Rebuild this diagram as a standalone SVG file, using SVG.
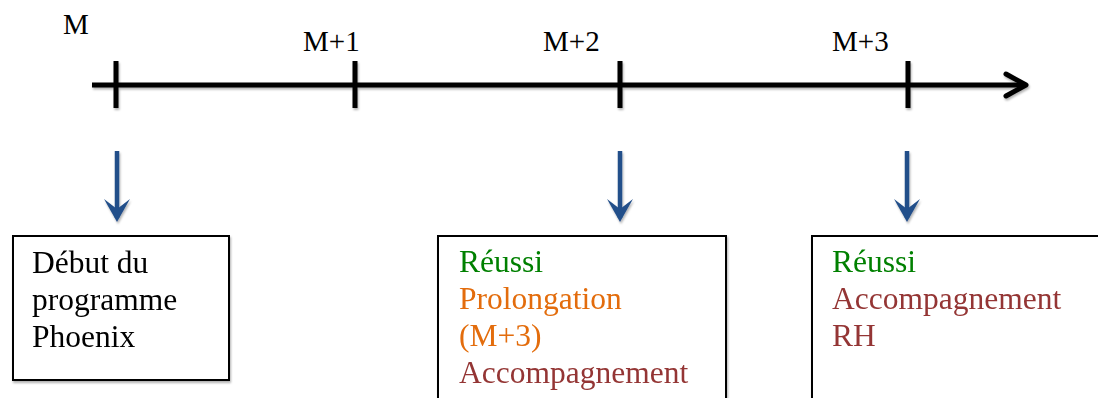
<svg xmlns="http://www.w3.org/2000/svg" width="1098" height="398" viewBox="0 0 1098 398">
  <style>
    .axis { stroke: #000; stroke-width: 5; fill: none; stroke-linecap: butt; }
    .head { stroke: #000; stroke-width: 5; fill: none; stroke-linecap: round; stroke-linejoin: round; }
    .tick { stroke: #000; stroke-width: 5; }
    .lbl { font-family: "Liberation Serif", "Times New Roman", serif; font-size: 29px; fill: #000; }
    .down { stroke: #24508a; stroke-width: 4.5; fill: none; }
    .box { fill: #fff; stroke: #000; stroke-width: 2; }
    .txt { font-family: "Liberation Serif", "Times New Roman", serif; font-size: 31.5px; }
    .ok { fill: #008000; }
    .ext { fill: #e36c0a; }
    .hr { fill: #943634; }
    .plain { fill: #000; }
  </style>
  <defs>
    <filter id="shade" x="-10%" y="-10%" width="120%" height="130%">
      <feDropShadow dx="1" dy="2" stdDeviation="1" flood-color="#000" flood-opacity="0.3"/>
    </filter>
  </defs>

  <!-- time axis with month ticks -->
  <g id="timeline" filter="url(#shade)">
    <line class="axis" x1="92" y1="85" x2="1024" y2="85"/>
    <polyline class="head" points="1006,74 1026,85 1006,96"/>
    <line class="tick" x1="116" y1="61" x2="116" y2="108"/>
    <line class="tick" x1="355" y1="61" x2="355" y2="108"/>
    <line class="tick" x1="620" y1="61" x2="620" y2="108"/>
    <line class="tick" x1="908" y1="61" x2="908" y2="108"/>
  </g>

  <g id="labels">
    <text class="lbl" x="63" y="34">M</text>
    <text class="lbl" x="303" y="51">M+1</text>
    <text class="lbl" x="543" y="51">M+2</text>
    <text class="lbl" x="832" y="51">M+3</text>
  </g>

  <!-- downward pointers from ticks to boxes -->
  <g id="connectors" filter="url(#shade)">
    <line class="down" x1="117" y1="151" x2="117" y2="218"/>
    <path d="M104,199 L117,222 L130,199 L117,209 Z" fill="#24508a"/>
    <line class="down" x1="620" y1="151" x2="620" y2="218"/>
    <path d="M607,199 L620,222 L633,199 L620,209 Z" fill="#24508a"/>
    <line class="down" x1="907" y1="151" x2="907" y2="218"/>
    <path d="M894,199 L907,222 L920,199 L907,209 Z" fill="#24508a"/>
  </g>

  <g id="start" filter="url(#shade)">
    <rect class="box" x="13" y="236" width="216" height="144"/>
    <text class="txt plain" x="32" y="273">Début du</text>
    <text class="txt plain" x="32" y="310">programme</text>
    <text class="txt plain" x="32" y="347">Phoenix</text>
  </g>

  <g id="month2" filter="url(#shade)">
    <rect class="box" x="438" y="236" width="288" height="180"/>
    <text class="txt ok" x="459" y="272">Réussi</text>
    <text class="txt ext" x="459" y="309">Prolongation</text>
    <text class="txt ext" x="459" y="346">(M+3)</text>
    <text class="txt hr" x="459" y="383">Accompagnement</text>
  </g>

  <g id="month3" filter="url(#shade)">
    <rect class="box" x="812" y="236" width="300" height="180"/>
    <text class="txt ok" x="832" y="272">Réussi</text>
    <text class="txt hr" x="832" y="309">Accompagnement</text>
    <text class="txt hr" x="832" y="346">RH</text>
  </g>
</svg>
